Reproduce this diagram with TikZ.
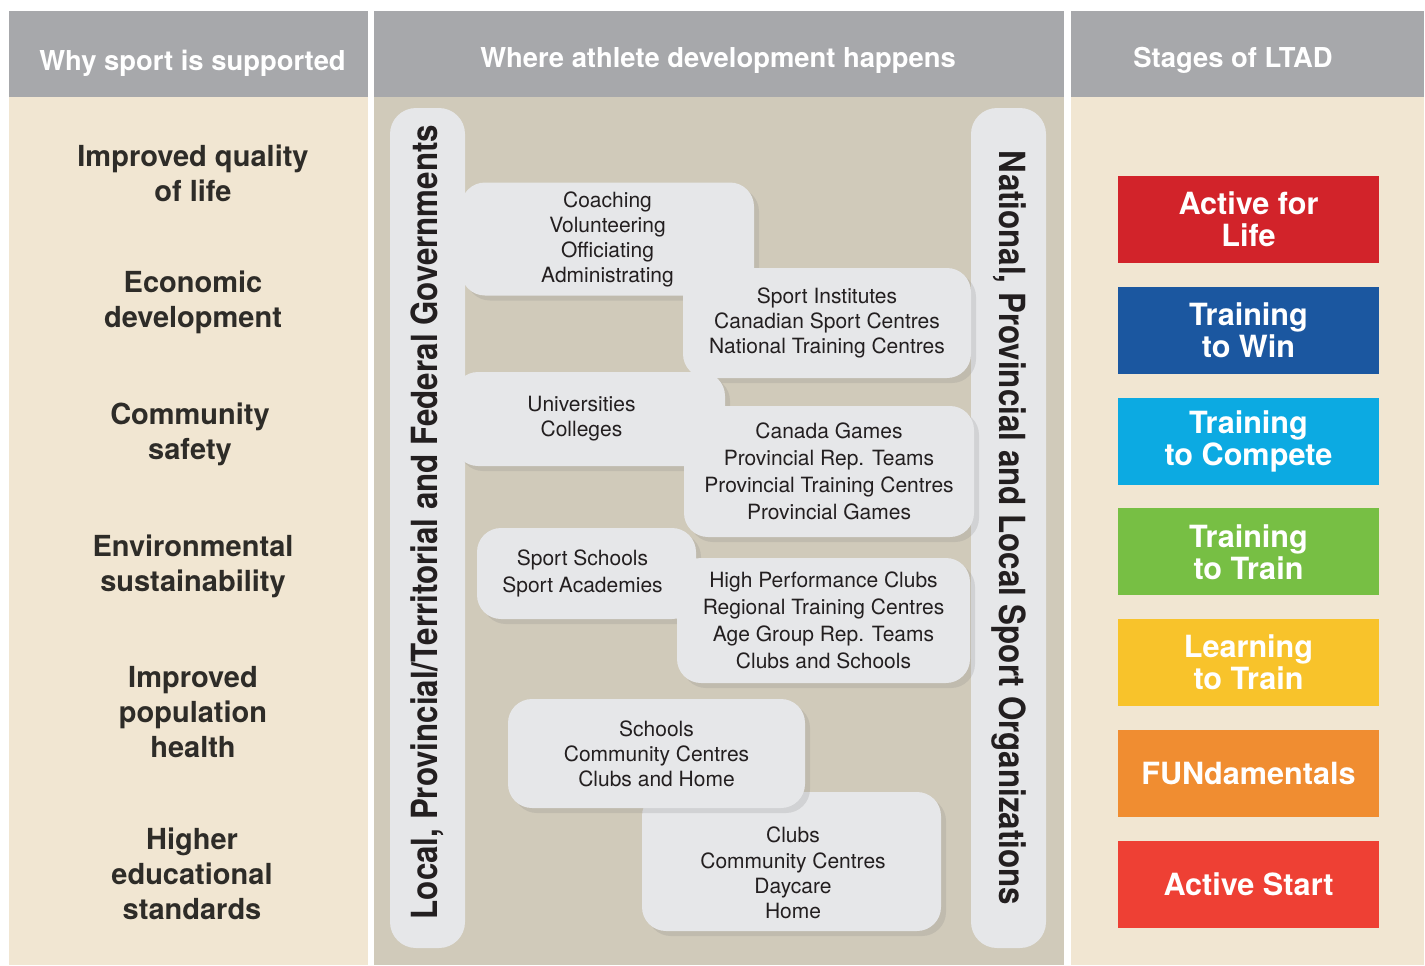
\documentclass[tikz,border=0pt]{standalone}
\usepackage{fontspec}
\setmainfont{TeX Gyre Heros}
\newfontfamily\condfont[FakeStretch=0.87]{TeX Gyre Heros}
\usetikzlibrary{positioning,shadows}

\definecolor{headgray}{HTML}{A7A8AB}
\definecolor{beige}{HTML}{F1E6D2}
\definecolor{tan}{HTML}{D0CABA}
\definecolor{boxgray}{HTML}{E6E7E9}
\definecolor{boxtext}{HTML}{231F20}
\definecolor{reasontext}{HTML}{2E2C28}
\definecolor{ltadred}{HTML}{D2232A}
\definecolor{ltadblue}{HTML}{1B57A0}
\definecolor{ltadcyan}{HTML}{0CAAE2}
\definecolor{ltadgreen}{HTML}{77BF44}
\definecolor{ltadyellow}{HTML}{F8C32B}
\definecolor{ltadorange}{HTML}{F08D31}
\definecolor{ltadstart}{HTML}{EE4034}

\begin{document}
\begin{tikzpicture}[x=0.5pt,y=-0.5pt,node distance=11.5pt,
                    head/.style={text=white,font=\bfseries\fontsize{13.7}{16}\selectfont},
                    reason/.style={align=center,text=reasontext,
                                   font=\bfseries\fontsize{14.5}{17.5}\selectfont},
                    place/.style={fill=boxgray,rounded corners=12pt,align=center,
                                  text=boxtext,inner sep=0pt,
                                  drop shadow={shadow xshift=2.5pt,shadow yshift=-2.5pt,opacity=.2},
                                  font=\fontsize{10.5}{12.5}\selectfont},
                    wide/.style={font=\fontsize{10.5}{13.5}\selectfont},
                    pill/.style={fill=boxgray,rounded corners=13pt,inner sep=0pt,
                                 minimum width=420pt,minimum height=37.5pt,text=boxtext,
                                 font=\condfont\bfseries\fontsize{18}{20}\selectfont},
                    stage/.style={minimum width=130.5pt,minimum height=43.5pt,inner sep=0pt,
                                  align=center,text=white,
                                  font=\bfseries\fontsize{15.3}{16}\selectfont}]

  \useasboundingbox[fill=white] (0,0) rectangle (1425,965);

  % columns
  \fill[beige]    (9,97)    rectangle (368,965);
  \fill[tan]      (374,97)  rectangle (1064,965);
  \fill[beige]    (1071,97) rectangle (1424,965);
  \fill[headgray] (9,11)    rectangle (368,97);
  \fill[headgray] (374,11)  rectangle (1064,97);
  \fill[headgray] (1071,11) rectangle (1424,97);

  \node[head] (why)    at (192.5,63) {Why sport is supported};
  \node[head] (where)  at (718,60)   {Where athlete development happens};
  \node[head] (stages) at (1233,60)  {Stages of LTAD};

  % why sport is supported
  \node[reason] (life)    at (193,173)   {Improved quality\\of life};
  \node[reason] (economy) at (193,302.5) {Economic\\development};
  \node[reason] (safety)  at (190,434.5) {Community\\safety};
  \node[reason] (environ) at (193,566.5) {Environmental\\sustainability};
  \node[reason] (health)  at (193,712)   {Improved\\population\\health};
  \node[reason] (educ)    at (192,874)   {Higher\\educational\\standards};

  % where development happens
  \node[pill,rotate=90]  (govts) at (427.5,528) {\hspace*{6pt}Local, Provincial/Territorial and Federal Governments};
  \node[pill,rotate=-90] (orgs)  at (1008.5,528) {National, Provincial and Local Sport Organizations};

  \node[place,minimum width=146.5pt,minimum height=56.5pt] (coach) at (607.5,239)
       {Coaching\\Volunteering\\Officiating\\Administrating};
  \node[place,minimum width=144pt,minimum height=55pt] (inst) at (827,323)
       {Sport Institutes\\Canadian Sport Centres\\National Training Centres};
  \node[place,minimum width=135.5pt,minimum height=47pt] (univ) at (589.5,419)
       {\hspace*{-8pt}Universities\\\hspace*{-8pt}Colleges};
  \node[place,wide,minimum width=145pt,minimum height=65.5pt] (games) at (829,471.5)
       {Canada Games\\Provincial Rep. Teams\\Provincial Training Centres\\Provincial Games};
  \node[place,wide,minimum width=109.5pt,minimum height=45.5pt] (acad) at (586.5,573.5)
       {\hspace*{-4pt}Sport Schools\\\hspace*{-4pt}Sport Academies};
  \node[place,wide,minimum width=146.5pt,minimum height=62.5pt] (hpc) at (823.5,620.5)
       {High Performance Clubs\\Regional Training Centres\\Age Group Rep. Teams\\Clubs and Schools};
  \node[place,minimum width=149.5pt,minimum height=69.5pt] (daycare) at (791.5,861.5) {};
  \node[align=center,text=boxtext,font=\fontsize{10.5}{12.6}\selectfont] (daytext) at (793,873)
       {Clubs\\Community Centres\\Daycare\\Home};
  \node[place,minimum width=148.5pt,minimum height=54.5pt] (school) at (656.5,753.5)
       {Schools\\Community Centres\\Clubs and Home};

  % stages of LTAD
  \node[stage,fill=ltadred]    (afl)     at (1248.5,219.5) {Active for\\Life};
  \node[stage,fill=ltadblue]   (t2w)     [below=of afl]     {Training\\to Win};
  \node[stage,fill=ltadcyan]   (t2c)     [below=of t2w]     {Training\\to Compete};
  \node[stage,fill=ltadgreen]  (t2t)     [below=of t2c]     {Training\\to Train};
  \node[stage,fill=ltadyellow] (l2t)     [below=of t2t]     {Learning\\to Train};
  \node[stage,fill=ltadorange] (fun)     [below=of l2t]     {FUNdamentals};
  \node[stage,fill=ltadstart]  (start)   [below=of fun]     {Active Start};
\end{tikzpicture}
\end{document}
